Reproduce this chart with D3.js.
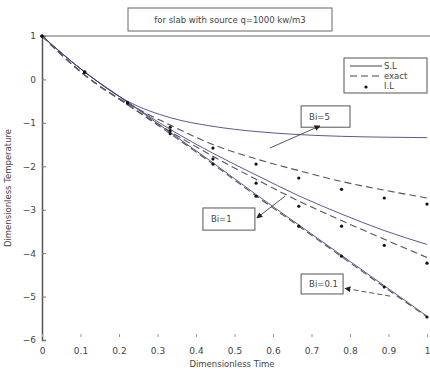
<!DOCTYPE html>
<html>
<head>
<meta charset="utf-8">
<script src="https://cdn.jsdelivr.net/npm/d3@7"></script>
<style>
  body { margin: 0; background: #fff; }
  text { font-family: "DejaVu Sans", sans-serif; fill: #444; }
</style>
</head>
<body>
<div id="chart"></div>
<script>
// dimensionless time grid
const times = [0, 0.111, 0.222, 0.333, 0.444, 0.556, 0.667, 0.778, 0.889, 1];

// Bi = 5
const sl5    = [1, 0.17, -0.50, -0.88, -1.08, -1.20, -1.27, -1.31, -1.33, -1.34];
const exact5 = [1, 0.10, -0.55, -1.05, -1.50, -1.83, -2.10, -2.35, -2.55, -2.73];
const il5    = [1, 0.17, -0.54, -1.10, -1.58, -1.95, -2.27, -2.53, -2.73, -2.87];
// Bi = 1
const sl1    = [1, 0.17, -0.52, -1.15, -1.70, -2.20, -2.68, -3.10, -3.48, -3.80];
const exact1 = [1, 0.10, -0.58, -1.20, -1.77, -2.30, -2.80, -3.25, -3.68, -4.10];
const il1    = [1, 0.17, -0.54, -1.18, -1.83, -2.39, -2.92, -3.38, -3.82, -4.23];
// Bi = 0.1
const sl01    = [1, 0.17, -0.52, -1.22, -1.92, -2.65, -3.35, -4.05, -4.75, -5.45];
const exact01 = [1, 0.10, -0.58, -1.25, -1.95, -2.68, -3.38, -4.08, -4.78, -5.47];
const il01    = [1, 0.17, -0.54, -1.25, -1.95, -2.69, -3.38, -4.07, -4.78, -5.47];

const xTicks = [0, 0.1, 0.2, 0.3, 0.4, 0.5, 0.6, 0.7, 0.8, 0.9, 1];
const yTicks = [1, 0, -1, -2, -3, -4, -5, -6];

// annotation boxes (data coords) and arrows: [fromT, fromV, toT, toV]
const notes = [
  { label: "Bi=5",   box: [0.673, 0.80, -0.61, -1.10], arrow: [0.592, -1.58, 0.722, -1.07], dash: null },
  { label: "Bi=1",   box: [0.418, 0.553, -2.96, -3.47], arrow: [0.631, -2.69, 0.558, -3.19], dash: null },
  { label: "Bi=0.1", box: [0.673, 0.782, -4.48, -4.94], arrow: [0.904, -4.99, 0.787, -4.81], dash: "5,3" }
];

const width = 430, height = 372;
const margin = { top: 36, right: 3, bottom: 32, left: 42 };

const svg = d3.select("#chart").append("svg")
  .attr("width", width).attr("height", height);

const x = d3.scaleLinear().domain([0, 1]).range([margin.left, width - margin.right]);
const y = d3.scaleLinear().domain([-6, 1]).range([height - margin.bottom, margin.top]);

svg.append("defs").append("marker")
  .attr("id", "arr").attr("viewBox", "0 0 10 10")
  .attr("refX", 9).attr("refY", 5)
  .attr("markerWidth", 6).attr("markerHeight", 6)
  .attr("orient", "auto")
  .append("path").attr("d", "M0,0L10,5L0,10z").attr("fill", "#222");

// axes
const yAxis = d3.axisLeft(y).tickValues(yTicks).tickSize(-4).tickPadding(6).tickFormat(d3.format("d"));
const gy = svg.append("g").attr("transform", `translate(${margin.left},0)`).call(yAxis);
gy.select(".domain").attr("stroke", "#555").attr("stroke-width", 1.5);
gy.selectAll(".tick line").attr("stroke", "#777");
gy.selectAll("text").attr("font-size", 9).attr("fill", "#555");

const xAxis = d3.axisBottom(x).tickValues(xTicks).tickSize(0).tickPadding(8)
  .tickFormat(d => d === 0 || d === 1 ? d3.format("d")(d) : d3.format(".1f")(d));
const gx = svg.append("g").attr("transform", `translate(0,${height - margin.bottom})`).call(xAxis);
gx.select(".domain").remove();
gx.selectAll("text").attr("font-size", 9).attr("fill", "#555");
gx.selectAll(".tick").append("line")
  .attr("y1", -6).attr("y2", -3).attr("stroke", "#999");

// top border
svg.append("line")
  .attr("x1", x(0)).attr("x2", width).attr("y1", y(1)).attr("y2", y(1))
  .attr("stroke", "#666").attr("stroke-width", 1.2);

// axis labels
svg.append("text")
  .attr("transform", `translate(11,${(y(1) + y(-6)) / 2}) rotate(-90)`)
  .attr("text-anchor", "middle").attr("font-size", 8.5).attr("fill", "#555")
  .text("Dimensionless Temperature");
svg.append("text")
  .attr("x", 232).attr("y", 367)
  .attr("text-anchor", "middle").attr("font-size", 8.5).attr("fill", "#555")
  .text("Dimensionless Time");

// title box
svg.append("rect").attr("x", 128).attr("y", 8).attr("width", 204).attr("height", 23)
  .attr("fill", "#fff").attr("stroke", "#666");
svg.append("text").attr("x", 230).attr("y", 23).attr("text-anchor", "middle")
  .attr("font-size", 8.5).attr("fill", "#555")
  .text("for slab with source q=1000 kw/m3");

// curves
const line = d3.line().x((d, i) => x(times[i])).y(d => y(d)).curve(d3.curveMonotoneX);

[sl5, sl1, sl01].forEach(s => {
  svg.append("path").attr("d", line(s)).attr("fill", "none")
    .attr("stroke", "#3b3b85").attr("stroke-width", 1).attr("opacity", 0.85);
});
[exact5, exact1, exact01].forEach(s => {
  svg.append("path").attr("d", line(s)).attr("fill", "none")
    .attr("stroke", "#555").attr("stroke-width", 1.1).attr("stroke-dasharray", "7,4");
});
[il5, il1, il01].forEach(s => {
  svg.append("g").selectAll("circle").data(s).join("circle")
    .attr("cx", (d, i) => x(times[i])).attr("cy", d => y(d))
    .attr("r", 1.6).attr("fill", "#111");
});

// annotations
notes.forEach(n => {
  const [t0, t1, v0, v1] = n.box;
  svg.append("rect")
    .attr("x", x(t0)).attr("y", y(v0))
    .attr("width", x(t1) - x(t0)).attr("height", y(v1) - y(v0))
    .attr("fill", "#fff").attr("stroke", "#555");
  svg.append("text")
    .attr("x", x(t0) + 8).attr("y", (y(v0) + y(v1)) / 2 + 3)
    .attr("font-size", 8.5).attr("fill", "#555").text(n.label);
  const [a0, b0, a1, b1] = n.arrow;
  svg.append("line")
    .attr("x1", x(a0)).attr("y1", y(b0)).attr("x2", x(a1)).attr("y2", y(b1))
    .attr("stroke", "#555").attr("stroke-width", 1)
    .attr("stroke-dasharray", n.dash)
    .attr("marker-end", "url(#arr)");
});

// legend
const lg = svg.append("g").attr("transform", "translate(344,58)");
lg.append("rect").attr("width", 83).attr("height", 35).attr("fill", "#fff").attr("stroke", "#555");
const legendItems = [
  { name: "S.L", dash: null, dot: false },
  { name: "exact", dash: "7,4", dot: false },
  { name: "I.L", dash: null, dot: true }
];
legendItems.forEach((it, i) => {
  const yy = 8 + i * 10;
  if (it.dot) {
    lg.append("circle").attr("cx", 22).attr("cy", yy + 1).attr("r", 1.6).attr("fill", "#111");
  } else {
    lg.append("line").attr("x1", 6).attr("x2", 38).attr("y1", yy).attr("y2", yy)
      .attr("stroke", "#444").attr("stroke-dasharray", it.dash);
  }
  lg.append("text").attr("x", 40).attr("y", yy + 3).attr("font-size", 8.5)
    .attr("fill", "#555").text(it.name);
});
</script>
</body>
</html>
